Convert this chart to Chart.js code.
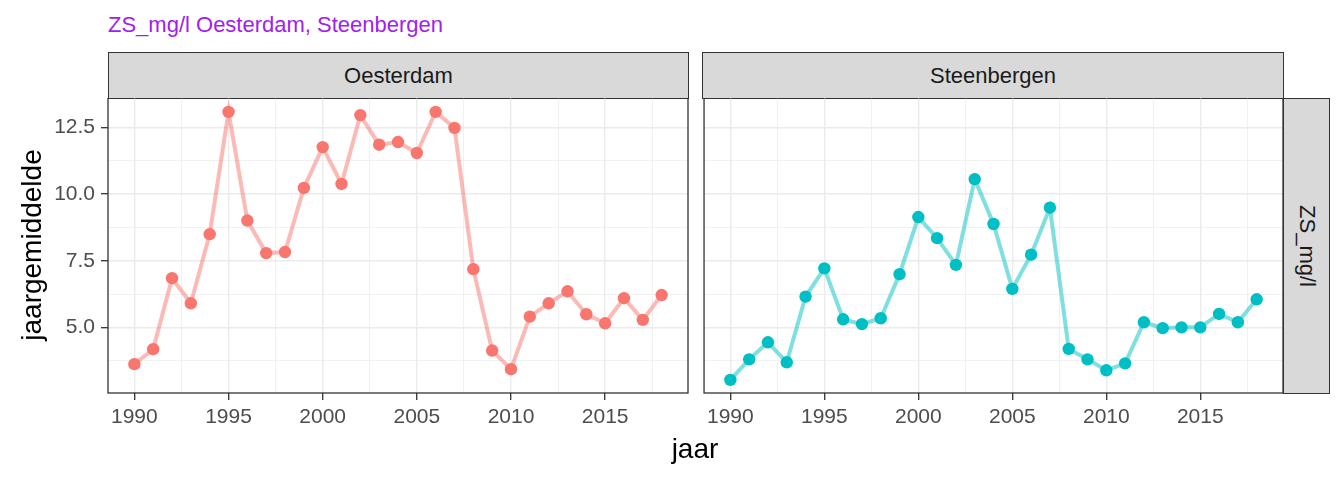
<!DOCTYPE html>
<html>
<head>
<meta charset="utf-8">
<script src="https://cdn.jsdelivr.net/npm/chart.js@4.4.0/dist/chart.umd.min.js"></script>
<style>
body{margin:0;width:1344px;height:480px;background:#fff;position:relative;overflow:hidden;font-family:"Liberation Sans",Arial,sans-serif;}
.abs{position:absolute;}
#title{left:108px;top:12px;font-size:22px;line-height:26px;color:#A020F0;white-space:nowrap;}
.strip{position:absolute;background:#D9D9D9;border:1.3px solid #333;box-sizing:border-box;color:#1A1A1A;font-size:22px;display:flex;align-items:center;justify-content:center;}
.rot{white-space:nowrap;text-align:center;}
</style>
</head>
<body>
<div id="title" class="abs">ZS_mg/l Oesterdam, Steenbergen</div>

<div class="strip" style="left:108px;top:52px;width:581px;height:47px;">Oesterdam</div>
<div class="strip" style="left:702px;top:52px;width:582px;height:47px;">Steenbergen</div>
<div class="strip" style="left:1283px;top:98px;width:47px;height:296px;">
  <div class="rot" style="transform:rotate(90deg);">ZS_mg/l</div>
</div>

<div class="abs" style="left:0;top:98px;width:689px;height:340px;"><canvas id="left"></canvas></div>
<div class="abs" style="left:702px;top:98px;width:582px;height:340px;"><canvas id="right"></canvas></div>

<div class="abs rot" style="left:-118px;top:228px;width:300px;height:34px;line-height:34px;font-size:28px;color:#000;transform:rotate(-90deg);">jaargemiddelde</div>
<div class="abs rot" style="left:595px;top:432px;width:200px;height:34px;line-height:34px;font-size:28px;color:#000;">jaar</div>

<script>
// jaren 1990 - 2018
var years = [1990,1991,1992,1993,1994,1995,1996,1997,1998,1999,2000,2001,2002,2003,2004,
             2005,2006,2007,2008,2009,2010,2011,2012,2013,2014,2015,2016,2017,2018];
var oesterdam = [3.63,4.19,6.85,5.91,8.5,13.08,9.01,7.79,7.83,10.23,11.76,10.38,12.96,11.85,11.95,
                 11.54,13.08,12.48,7.19,4.14,3.44,5.41,5.91,6.36,5.5,5.16,6.1,5.29,6.22];
var steenbergen = [3.04,3.81,4.45,3.7,6.16,7.22,5.31,5.13,5.35,7.0,9.14,8.35,7.35,10.56,8.88,
                   6.45,7.73,9.49,4.2,3.81,3.4,3.66,5.2,4.98,5.01,5.01,5.51,5.2,6.06];

var xMajor = [1990,1995,2000,2005,2010,2015];
var xMinor = [1992.5,1997.5,2002.5,2007.5,2012.5,2017.5];
var yMajor = [5,7.5,10,12.5];
var yMinor = [3.75,6.25,8.75,11.25];

var red = "#F8766D", redLine = "rgba(248,118,109,0.5)";
var teal = "#00BFC4", tealLine = "rgba(0,191,196,0.5)";

function pts(vals){
	return years.map(function(y,i){ return {x:y, y:vals[i]}; });
}

var panelBorder = {
	id:'panelBorder',
	afterDraw:function(chart){
		var a = chart.chartArea, c = chart.ctx;
		c.save();
		c.strokeStyle = "#333333";
		c.lineWidth = 1.3;
		c.strokeRect(a.left, a.top, a.right-a.left, a.bottom-a.top);
		c.restore();
	}
};

function isMajor(list, v){
	return list.some(function(m){ return Math.abs(m-v) < 1e-6; });
}

function makeChart(id, vals, col, lineCol, showY){
	return new Chart(document.getElementById(id), {
		type:'line',
		data:{
			datasets:[{
				data:pts(vals),
				borderColor:lineCol,
				borderWidth:4,
				pointRadius:6.2,
				pointBorderWidth:0,
				pointBackgroundColor:col,
				tension:0
			}]
		},
		options:{
			responsive:true,
			maintainAspectRatio:false,
			animation:false,
			layout:{autoPadding:false, padding:{left:0,right:1,top:0,bottom:0}},
			plugins:{legend:{display:false},tooltip:{enabled:false}},
			scales:{
				x:{
					type:'linear',
					min:1988.6, max:2019.4,
					afterBuildTicks:function(s){
						s.ticks = xMajor.concat(xMinor).sort().map(function(v){ return {value:v}; });
					},
					afterFit:function(s){ s.height = 45; },
					border:{display:false},
					grid:{
						color:'#EBEBEB',
						lineWidth:function(c){ return isMajor(xMajor, c.tick.value) ? 1.4 : 0.7; },
						tickColor:function(c){ return isMajor(xMajor, c.tick.value) ? '#333333' : 'rgba(0,0,0,0)'; },
						tickWidth:1.3,
						tickLength:7
					},
					ticks:{
						autoSkip:false, maxRotation:0, padding:5,
						color:'#4D4D4D',
						font:{family:'"Liberation Sans", Arial, sans-serif', size:21},
						callback:function(v){ return isMajor(xMajor, v) ? String(v) : ''; }
					}
				},
				y:{
					min:2.55, max:13.6,
					afterBuildTicks:function(s){
						s.ticks = yMajor.concat(yMinor).sort(function(a,b){return a-b;}).map(function(v){ return {value:v}; });
					},
					afterFit:function(s){
						s.width = showY ? 108 : 0;
						s.paddingTop = 0; s.paddingBottom = 0;
					},
					border:{display:false},
					grid:{
						color:'#EBEBEB',
						lineWidth:function(c){ return isMajor(yMajor, c.tick.value) ? 1.4 : 0.7; },
						tickColor:function(c){ return isMajor(yMajor, c.tick.value) ? '#333333' : 'rgba(0,0,0,0)'; },
						tickWidth:1.3,
						tickLength:7,
						drawTicks:showY
					},
					ticks:{
						display:showY,
						autoSkip:false, padding:6,
						color:'#4D4D4D',
						font:{family:'"Liberation Sans", Arial, sans-serif', size:21},
						callback:function(v){ return isMajor(yMajor, v) ? v.toFixed(1) : ''; }
					}
				}
			}
		},
		plugins:[panelBorder]
	});
}

var leftChart = makeChart("left", oesterdam, red, redLine, true);
var rightChart = makeChart("right", steenbergen, teal, tealLine, false);
</script>
</body>
</html>
